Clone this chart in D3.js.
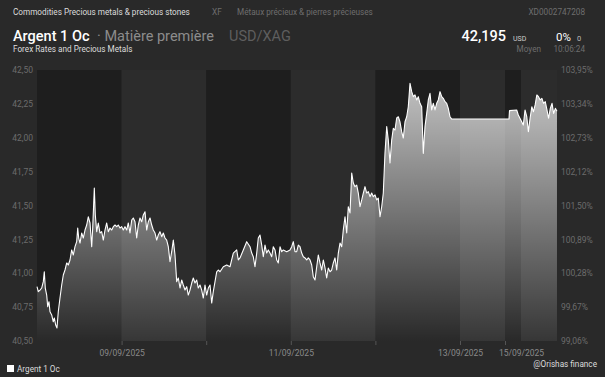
<!DOCTYPE html>
<html>
<head>
<meta charset="utf-8">
<script src="https://cdn.jsdelivr.net/npm/d3@7"></script>
<style>
  body { margin: 0; background: #292929; }
  text { font-family: Roboto, "Noto Sans", sans-serif; }
</style>
</head>
<body>
<script>
// Silver (Argent 1 Oc) intraday quotes, hours since 08/09/2025 00:00
const hours = [
  0,0.37,0.85,1.33,1.79,2.07,2.35,2.75,3.04,3.40,3.69,4.17,4.62,4.91,5.30,5.67,6.04,6.52,7.01,7.46,
  7.94,8.43,8.88,9.36,9.84,10.30,10.78,11.26,11.55,11.83,12.20,12.68,13.13,13.62,14.10,14.55,15.04,15.52,15.80,16.26,
  16.54,16.94,17.39,17.87,18.35,18.81,19.29,19.77,20.23,20.71,21.19,21.65,22.13,22.61,23.06,23.55,24.03,24.48,24.96,
  25.45,25.90,26.38,26.87,27.32,27.80,28.28,28.74,29.22,29.70,30.16,30.64,31.12,31.57,32.06,32.54,32.99,33.48,33.96,34.41,
  34.89,35.38,35.83,36.31,36.79,37.25,37.73,38.21,38.67,39.15,39.63,40.09,40.57,41.05,41.50,41.99,42.47,42.92,43.40,43.89,
  44.34,44.82,45.31,45.76,46.24,46.72,47.18,47.66,48.14,48.60,49.08,49.56,50.01,50.50,50.98,51.43,51.92,
  52.85,53.82,54.75,55.69,56.65,57.11,57.59,58.53,59.49,60.43,60.91,61.36,61.84,62.33,62.78,63.26,63.75,64.20,64.68,65.16,
  65.62,66.10,66.58,67.04,67.52,68.00,68.45,68.94,69.42,69.87,70.84,71.77,72.26,72.71,73.19,73.67,74.13,74.61,75.09,75.55,
  76.03,76.51,76.97,77.45,77.93,78.38,78.87,79.35,79.80,80.28,80.77,81.22,81.70,82.18,82.64,83.12,83.60,84.06,84.54,85.02,
  85.48,85.96,86.44,86.89,87.38,87.86,88.31,88.80,89.28,89.73,90.21,90.70,91.15,91.63,92.12,92.57,93.05,93.53,93.99,94.47,
  94.95,95.41,95.89,96.37,96.82,97.31,97.79,98.24,98.72,99.21,99.66,100.14,100.62,101.08,101.56,102.04,102.50,102.98,103.46,103.91,
  104.40,104.88,105.33,105.82,106.30,106.75,107.23,107.72,108.17,108.65,109.13,109.59,110.07,110.55,111.01,111.49,111.97,112.43,112.91,113.39,
  113.84,114.33,114.81,115.26,115.75,116.23,116.68,117.16,117.65,
  150.0,150.75,161.55,163.95,168.20,168.65,169.13,169.62,170.07,170.55,171.04,171.49,171.97,172.45,172.91,173.39,173.87,174.33,174.81,175.29,
  175.74,176.23,176.71,177.16,177.65,178.1
];
const price = [
  40.901,40.864,40.876,40.891,40.938,41.011,40.891,40.839,40.753,40.790,40.716,40.692,40.642,40.670,40.618,40.596,40.716,40.817,40.913,40.987,
  41.024,41.076,41.061,41.098,41.172,41.135,41.196,41.233,41.334,41.260,41.223,41.297,41.260,41.319,41.356,41.417,41.371,41.196,41.334,41.629,
  41.430,41.307,41.371,41.297,41.307,41.245,41.319,41.371,41.307,41.334,41.319,41.344,41.356,41.344,41.356,41.334,41.344,41.319,41.344,
  41.319,41.371,41.297,41.393,41.408,41.380,41.260,41.356,41.408,41.380,41.430,41.454,41.319,41.380,41.408,41.356,41.319,41.297,41.245,41.282,
  41.307,41.270,41.297,41.260,41.245,41.196,41.085,41.159,41.245,41.135,40.938,40.965,40.891,40.950,40.913,40.876,40.901,40.839,40.876,40.928,
  40.965,40.928,40.950,40.891,40.913,40.876,40.817,40.913,40.839,40.891,40.913,40.780,40.864,40.938,41.011,41.024,41.011,
  41.048,41.061,41.048,41.149,41.172,41.098,41.113,41.172,41.233,41.196,41.149,41.122,41.048,41.149,41.260,41.282,41.208,41.122,41.208,41.149,
  41.172,41.149,41.122,41.196,41.172,41.098,41.076,41.196,41.159,41.172,41.159,41.172,41.196,41.233,41.159,41.159,41.208,41.196,41.149,41.122,
  41.113,41.098,41.113,41.098,41.061,40.975,40.950,41.048,41.135,41.076,41.024,41.098,41.039,40.965,41.039,41.011,41.024,41.076,41.113,41.024,
  41.149,41.223,41.196,41.319,41.417,41.297,41.491,41.445,41.740,41.666,41.639,41.651,41.592,41.491,41.541,41.592,41.639,41.592,41.602,41.565,
  41.592,41.565,41.578,41.541,41.555,41.417,41.491,41.592,41.887,42.082,41.983,41.814,41.983,42.070,42.057,42.146,42.155,42.116,42.045,41.998,
  42.118,42.155,42.229,42.402,42.340,42.303,42.316,42.279,42.303,42.254,42.229,41.885,42.082,42.180,42.279,42.328,42.205,42.254,42.205,42.254,
  42.279,42.340,42.303,42.291,42.266,42.254,42.217,42.155,42.138,
  42.138,42.200,42.205,42.168,42.118,42.094,42.205,42.155,42.045,42.144,42.229,42.192,42.242,42.316,42.303,42.279,42.291,42.254,42.266,42.205,
  42.144,42.217,42.254,42.180,42.217,42.195
];
const priceTicks = [40.5, 40.75, 41.0, 41.25, 41.5, 41.75, 42.0, 42.25, 42.5];
const basePrice = 40.885; // 100 % reference of the right axis
const days = [8, 9, 10, 11, 12, 13, 14, 15];
const labelledDays = [9, 11, 13, 15];
const lastTime = new Date(2025, 8, 15, 10, 6, 24);

const W = 605, H = 377;
const plotLeft = 37, plotTop = 70, plotBottom = 341;
// day columns: weekdays are full width, the weekend is squeezed
const dayEdges = [37, 121.6, 206.2, 290.8, 375.4, 460, 505, 521, 557];

const t0 = new Date(2025, 8, 8);
const data = hours.map((h, i) => ({ t: new Date(t0.getTime() + h * 3600e3), v: price[i] }));

const x = d3.scaleTime()
  .domain(days.map(d => new Date(2025, 8, d)).concat([lastTime]))
  .range(dayEdges);
const y = d3.scaleLinear().domain([40.5, 42.5]).range([plotBottom, plotTop]);
const yPct = d3.scaleLinear().domain([40.5 / basePrice * 100, 42.5 / basePrice * 100]).range([plotBottom, plotTop]);

const fr = d3.formatLocale({ decimal: ",", thousands: " ", grouping: [3], currency: ["", " €"] });

const svg = d3.select("body").append("svg")
  .attr("width", W)
  .attr("height", H);

svg.append("rect").attr("width", W).attr("height", H).attr("fill", "#292929");

// alternating day bands
svg.append("g").selectAll("rect")
  .data(days)
  .enter().append("rect")
  .attr("x", d => x(new Date(2025, 8, d)))
  .attr("y", plotTop)
  .attr("width", d => Math.min(x(new Date(2025, 8, d + 1)), x(lastTime)) - x(new Date(2025, 8, d)))
  .attr("height", plotBottom - plotTop)
  .attr("fill", (d, i) => i % 2 === 0 ? "#1e1e1e" : "#2c2c2c");

// area gradient
const grad = svg.append("defs").append("linearGradient")
  .attr("id", "fillGrad")
  .attr("gradientUnits", "userSpaceOnUse")
  .attr("x1", 0).attr("x2", 0)
  .attr("y1", plotTop).attr("y2", plotBottom);
grad.append("stop").attr("offset", "0%").attr("stop-color", "#ffffff").attr("stop-opacity", 0.76);
grad.append("stop").attr("offset", "100%").attr("stop-color", "#ffffff").attr("stop-opacity", 0.05);

const area = d3.area()
  .x(d => x(d.t))
  .y0(plotBottom)
  .y1(d => y(d.v));
svg.append("path").datum(data).attr("d", area).attr("fill", "url(#fillGrad)");

const line = d3.line()
  .x(d => x(d.t))
  .y(d => y(d.v));
svg.append("path").datum(data).attr("d", line)
  .attr("fill", "none")
  .attr("stroke", "#ffffff")
  .attr("stroke-width", 1.1)
  .attr("stroke-linejoin", "round");

// left axis
const yAxis = svg.append("g")
  .attr("transform", `translate(${plotLeft - 4},0)`)
  .call(d3.axisLeft(y).tickValues(priceTicks).tickSize(0).tickPadding(0).tickFormat(fr.format(".2f")));
yAxis.select(".domain").remove();
yAxis.selectAll("text").attr("fill", "#6c6c6c").attr("font-size", 8.5);

// right axis
const yAxisR = svg.append("g")
  .attr("transform", "translate(561,0)")
  .call(d3.axisRight(yPct).tickValues(priceTicks.map(p => p / basePrice * 100)).tickSize(0).tickPadding(0)
    .tickFormat(d => fr.format(".2f")(d) + "%"));
yAxisR.select(".domain").remove();
yAxisR.selectAll("text").attr("fill", "#6c6c6c").attr("font-size", 8.5);

// bottom axis
const xAxis = svg.append("g")
  .attr("transform", `translate(0,${plotBottom})`)
  .call(d3.axisBottom(x)
    .tickValues(days.slice(1).map(d => new Date(2025, 8, d)))
    .tickSize(4)
    .tickPadding(5)
    .tickFormat(d => labelledDays.includes(d.getDate()) ? d3.timeFormat("%d/%m/%Y")(d) : ""));
xAxis.select(".domain").remove();
xAxis.selectAll("line").attr("stroke", "#555");
xAxis.selectAll(".tick").filter(d => d.getDate() === 15).select("line").remove();
xAxis.selectAll("text").attr("fill", "#8a8a8a").attr("font-size", 8.5);

// header
function label(txt, px, py, size, color, anchor, weight) {
  svg.append("text").attr("x", px).attr("y", py)
    .attr("font-size", size).attr("fill", color)
    .attr("text-anchor", anchor || "start")
    .attr("font-weight", weight || 400)
    .text(txt);
}
label("Commodities Precious metals & precious stones", 13, 15, 8.2, "#dcdcdc");
label("XF", 212, 15, 8.2, "#6e6e6e");
label("Métaux précieux & pierres précieuses", 237, 15, 8.2, "#6e6e6e");
label("XD0002747208", 585, 15, 8.2, "#6e6e6e", "end");
label("Argent 1 Oc", 13, 41, 14.5, "#ffffff", "start", 500);
label("· Matière première", 97, 41, 14.5, "#8c8c8c");
label("USD/XAG", 229, 41, 14.5, "#5e5e5e");
label(fr.format(".3f")(price[price.length - 1]), 506, 41, 14.5, "#ffffff", "end", 500);
label("USD", 513, 41, 7, "#cfcfcf");
label("0%", 571, 41, 11.5, "#ffffff", "end");
label("0", 577, 41, 7.5, "#bbbbbb");
label("Forex Rates and Precious Metals", 13, 52, 8.2, "#dcdcdc");
label("Moyen", 541, 52, 8.2, "#6e6e6e", "end");
label(d3.timeFormat("%H:%M:%S")(lastTime), 585, 52, 8.2, "#6e6e6e", "end");

// legend and credit
svg.append("rect").attr("x", 7).attr("y", 365).attr("width", 7).attr("height", 7).attr("fill", "#ffffff");
label("Argent 1 Oc", 17, 372, 8.2, "#dcdcdc");
label("@Orishas finance", 597, 367, 8.2, "#dcdcdc", "end");
</script>
</body>
</html>
